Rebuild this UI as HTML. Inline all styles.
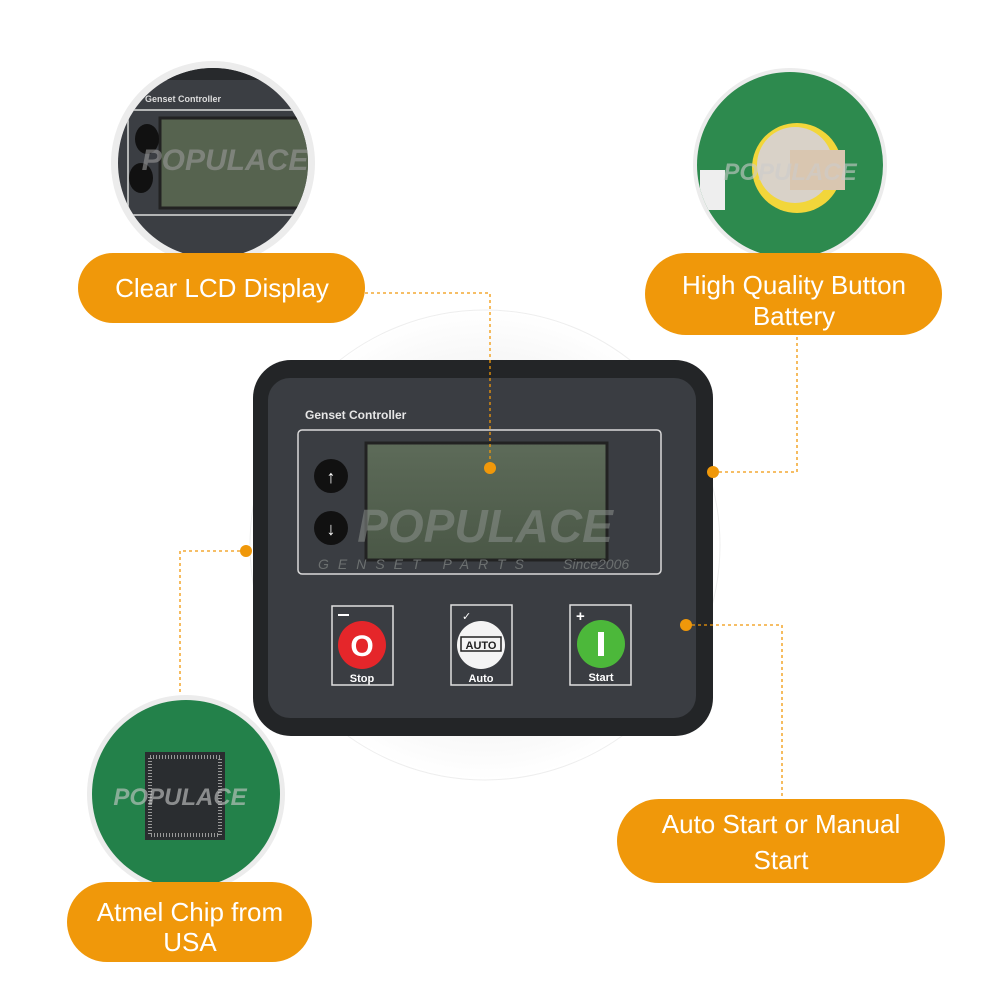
<!DOCTYPE html>
<html><head><meta charset="utf-8"><style>
html,body{margin:0;padding:0;background:#fff;width:1000px;height:1000px;overflow:hidden}
svg{display:block}
text{font-family:"Liberation Sans",sans-serif}
</style></head><body>
<svg width="1000" height="1000" viewBox="0 0 1000 1000" xmlns="http://www.w3.org/2000/svg">
<defs>
<radialGradient id="bg" cx="0.5" cy="0.5" r="0.5">
<stop offset="0" stop-color="#e8e8e8"/><stop offset="0.7" stop-color="#f4f4f4"/><stop offset="1" stop-color="#fff"/>
</radialGradient>
<linearGradient id="lcd" x1="0" y1="0" x2="0" y2="1"><stop offset="0" stop-color="#5d6b59"/><stop offset="1" stop-color="#4a5746"/></linearGradient>
<clipPath id="c1"><circle cx="213" cy="163" r="95"/></clipPath>
<clipPath id="c2"><circle cx="790" cy="165" r="93"/></clipPath>
<clipPath id="c3"><circle cx="186" cy="794" r="94"/></clipPath>
</defs>
<circle cx="485" cy="545" r="235" fill="url(#bg)"/>
<circle cx="485" cy="545" r="235" fill="none" stroke="#eee" stroke-width="1"/>

<!-- device -->
<rect x="253" y="360" width="460" height="376" rx="38" fill="#232527"/>
<rect x="268" y="378" width="428" height="340" rx="22" fill="#3a3d42"/>
<text x="305" y="419" font-size="12" font-weight="bold" fill="#e6e6e6">Genset Controller</text>
<rect x="298" y="430" width="363" height="144" rx="4" fill="none" stroke="#d9d9d9" stroke-width="1.5"/>
<rect x="366" y="443" width="241" height="117" fill="url(#lcd)" stroke="#222" stroke-width="3"/>
<circle cx="331" cy="476" r="17" fill="#111"/><text x="331" y="483" font-size="18" fill="#fff" text-anchor="middle" font-weight="bold">↑</text>
<circle cx="331" cy="528" r="17" fill="#111"/><text x="331" y="535" font-size="18" fill="#fff" text-anchor="middle" font-weight="bold">↓</text>
<text x="485" y="542" font-size="46" font-weight="bold" font-style="italic" fill="#8a8f8c" fill-opacity="0.55" text-anchor="middle">POPULACE</text>
<text x="318" y="569" font-size="14" font-style="italic" fill="#6c7070" letter-spacing="9">GENSET PARTS</text>
<text x="563" y="569" font-size="14" font-style="italic" fill="#6c7070">Since2006</text>
<!-- buttons -->
<rect x="332" y="606" width="61" height="79" fill="none" stroke="#e0e0e0" stroke-width="1.5"/>
<circle cx="362" cy="645" r="24" fill="#e5262a"/><text x="362" y="656" font-size="30" font-weight="bold" fill="#fff" text-anchor="middle">O</text>
<text x="362" y="682" font-size="11" font-weight="bold" fill="#fff" text-anchor="middle">Stop</text>
<rect x="338" y="614" width="11" height="2" fill="#fff"/>
<rect x="451" y="605" width="61" height="80" fill="none" stroke="#e0e0e0" stroke-width="1.5"/>
<circle cx="481" cy="645" r="24" fill="#f4f4f4"/>
<rect x="461" y="637" width="40" height="14" fill="none" stroke="#222" stroke-width="1.5"/>
<text x="481" y="649" font-size="11" font-weight="bold" fill="#222" text-anchor="middle">AUTO</text>
<text x="462" y="620" font-size="11" fill="#fff">✓</text>
<text x="481" y="682" font-size="11" font-weight="bold" fill="#fff" text-anchor="middle">Auto</text>
<rect x="570" y="605" width="61" height="80" fill="none" stroke="#e0e0e0" stroke-width="1.5"/>
<circle cx="601" cy="644" r="24" fill="#4cb83a"/><rect x="598" y="632" width="6" height="24" fill="#fff"/>
<text x="576" y="621" font-size="15" font-weight="bold" fill="#fff">+</text>
<text x="601" y="681" font-size="11" font-weight="bold" fill="#fff" text-anchor="middle">Start</text>

<!-- connectors -->
<g stroke="#f0980a" stroke-width="1.3" stroke-dasharray="3,3" fill="none">
<path d="M365 293 H490 V468"/>
<path d="M713 472 H797 V335"/>
<path d="M246 551 H180 V695"/>
<path d="M686 625 H782 V800"/>
</g>
<g fill="#f0980a">
<circle cx="490" cy="468" r="6"/><circle cx="713" cy="472" r="6"/><circle cx="246" cy="551" r="6"/><circle cx="686" cy="625" r="6"/>
</g>

<!-- circle 1 -->
<circle cx="213" cy="163" r="102" fill="#ececec"/>
<g clip-path="url(#c1)">
<rect x="100" y="50" width="230" height="230" fill="#3b3e43"/>
<rect x="100" y="50" width="230" height="30" fill="#27292c"/>
<text x="145" y="102" font-size="9" font-weight="bold" fill="#ddd">Genset Controller</text>
<rect x="128" y="110" width="220" height="105" fill="none" stroke="#ddd" stroke-width="1.5"/>
<rect x="160" y="118" width="160" height="90" fill="#56634f" stroke="#222" stroke-width="3"/>
<ellipse cx="147" cy="139" rx="12" ry="15" fill="#111"/><ellipse cx="141" cy="178" rx="12" ry="15" fill="#111"/>
<text x="225" y="170" font-size="30" font-weight="bold" font-style="italic" fill="#999" fill-opacity="0.6" text-anchor="middle">POPULACE</text>
</g>
<!-- circle 2 -->
<circle cx="790" cy="165" r="97" fill="#ececec"/>
<g clip-path="url(#c2)">
<rect x="690" y="60" width="200" height="220" fill="#2d8a4e"/>
<rect x="700" y="170" width="25" height="40" fill="#eee"/>
<circle cx="797" cy="168" r="45" fill="#f2d63a"/>
<circle cx="795" cy="165" r="38" fill="#d9d2c8"/>
<rect x="790" y="150" width="55" height="40" fill="#d9c6b0"/>
<text x="790" y="180" font-size="24" font-weight="bold" font-style="italic" fill="#ccc" fill-opacity="0.6" text-anchor="middle">POPULACE</text>
</g>
<!-- circle 3 -->
<circle cx="186" cy="794" r="99" fill="#ececec"/>
<g clip-path="url(#c3)">
<rect x="80" y="690" width="220" height="220" fill="#23814a"/>
<rect x="145" y="752" width="80" height="88" fill="#2a2d30"/>
<rect x="150" y="757" width="70" height="78" fill="none" stroke="#999" stroke-width="4" stroke-dasharray="1,2"/>
<text x="180" y="805" font-size="24" font-weight="bold" font-style="italic" fill="#ccc" fill-opacity="0.6" text-anchor="middle">POPULACE</text>
</g>

<!-- pills -->
<g fill="#f0980a">
<rect x="78" y="253" width="287" height="70" rx="35"/>
<rect x="645" y="253" width="297" height="82" rx="41"/>
<rect x="67" y="882" width="245" height="80" rx="40"/>
<rect x="617" y="799" width="328" height="84" rx="42"/>
</g>
<g fill="#fff" font-size="26" text-anchor="middle">
<text x="222" y="297">Clear LCD Display</text>
<text x="794" y="294">High Quality Button</text>
<text x="794" y="325">Battery</text>
<text x="190" y="921">Atmel Chip from</text>
<text x="190" y="951">USA</text>
<text x="781" y="833">Auto Start or Manual</text>
<text x="781" y="869">Start</text>
</g>
</svg>
</body></html>
